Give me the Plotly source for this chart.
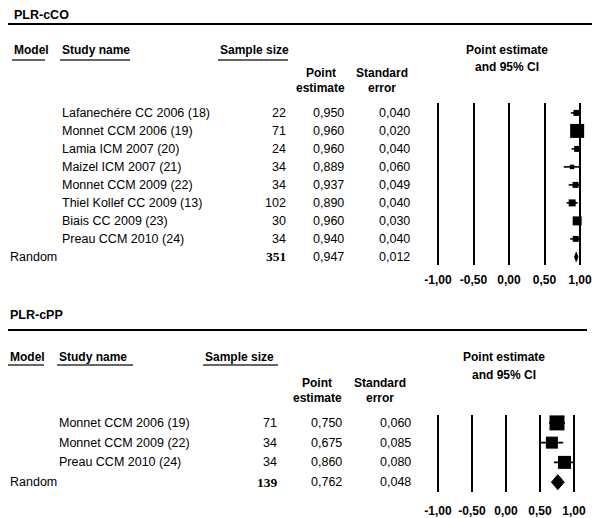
import plotly.graph_objects as go

# ---------------- data ----------------
cco_studies = ["Lafanechére CC 2006 (18)", "Monnet CCM 2006 (19)", "Lamia ICM 2007 (20)",
               "Maizel ICM 2007 (21)", "Monnet CCM 2009 (22)", "Thiel Kollef CC 2009 (13)",
               "Biais CC 2009 (23)", "Preau CCM 2010 (24)"]
cco_n = [22, 71, 24, 34, 34, 102, 30, 34]
cco_est = [0.950, 0.960, 0.960, 0.889, 0.937, 0.890, 0.960, 0.940]
cco_se = [0.040, 0.020, 0.040, 0.060, 0.049, 0.040, 0.030, 0.040]
cco_random_n = 351
cco_random_est = 0.947
cco_random_se = 0.012

cpp_studies = ["Monnet CCM 2006 (19)", "Monnet CCM 2009 (22)", "Preau CCM 2010 (24)"]
cpp_n = [71, 34, 34]
cpp_est = [0.750, 0.675, 0.860]
cpp_se = [0.060, 0.085, 0.080]
cpp_random_n = 139
cpp_random_est = 0.762
cpp_random_se = 0.048

tick_vals = [-1, -0.5, 0, 0.5, 1]
tick_text = ["-1,00", "-0,50", "0,00", "0,50", "1,00"]

# ---------------- styles ----------------
cco_marker_px = [6, 14, 6, 4.5, 6, 7, 9, 6]
cpp_marker_px = [15, 12, 13]
W, H = 600, 518
OX, OY = 8, 8          # page body margin offset of the plot div
REG = "Liberation Sans"
SERIF = "Liberation Serif"


def px(x):
    return (x - OX) / W


def py(y):
    return 1 - (y - OY) / H


def fmt(v):
    return f"{v:.3f}".replace(".", ",")


fig = go.Figure()


def add_forest(studies, est, se, msize, r_est, r_se, xa, ya, dia_h):
    xs, ys = [], []
    for i, (e, s) in enumerate(zip(est, se)):
        lo = max(-1, e - 1.96 * s)
        hi = min(1, e + 1.96 * s)
        xs += [lo, hi, None]
        ys += [i, i, None]
    fig.add_trace(go.Scatter(x=xs, y=ys, mode="lines", line=dict(color="black", width=1.6),
                             xaxis=xa, yaxis=ya, hoverinfo="skip"))
    fig.add_trace(go.Scatter(x=est, y=list(range(len(est))), mode="markers",
                             marker=dict(symbol="square", size=msize, color="black",
                                         opacity=1, line=dict(width=0)),
                             xaxis=xa, yaxis=ya, cliponaxis=False))
    r = len(est)
    lo = r_est - 1.96 * r_se
    hi = r_est + 1.96 * r_se
    fig.add_trace(go.Scatter(x=[lo, r_est, hi, r_est, lo], y=[r, r - dia_h, r, r + dia_h, r],
                             mode="lines", fill="toself", fillcolor="black",
                             line=dict(color="black", width=1), xaxis=xa, yaxis=ya))


add_forest(cco_studies, cco_est, cco_se, cco_marker_px, cco_random_est, cco_random_se, "x", "y", 0.25)
add_forest(cpp_studies, cpp_est, cpp_se, cpp_marker_px, cpp_random_est, cpp_random_se, "x2", "y2", 0.38)

ann = []
shapes = []


def text(x, y, t, anchor="left", bold=False, size=12.5, family=REG, yref="paper"):
    ann.append(dict(x=x, y=y, xref="paper", yref=yref, text=(f"<b>{t}</b>" if bold else t),
                    showarrow=False, xanchor=anchor, yanchor="middle",
                    font=dict(family=family, size=size, color="black")))


def section(title, title_y, sep_y, sep_x0, sep_x1, hdr_y, ul_y, cols, ci_x, pe_x, se_x,
            studies, ns, est, se, rn, rest, rse, yref, pe_y, ci_y):
    text(px(cols["title"]), py(title_y), title, bold=True, size=12.5)
    shapes.append(dict(type="line", xref="paper", yref="paper", x0=px(sep_x0), x1=px(sep_x1),
                       y0=py(sep_y), y1=py(sep_y), line=dict(color="black", width=2)))
    for key, label in [("model", "Model"), ("study", "Study name"), ("sample", "Sample size")]:
        x0, x1 = cols[key]
        text(px(x0), py(hdr_y), label, bold=True, size=12)
        shapes.append(dict(type="line", xref="paper", yref="paper", x0=px(x0), x1=px(x1),
                           y0=py(ul_y), y1=py(ul_y), line=dict(color="#333", width=1.5)))
    text(px(ci_x), py(ci_y[0]), "Point estimate", anchor="center", bold=True, size=12)
    text(px(ci_x), py(ci_y[1]), "and 95% CI", anchor="center", bold=True, size=12)
    text(px(pe_x), py(pe_y[0]), "Point", anchor="center", bold=True, size=12)
    text(px(pe_x), py(pe_y[1]), "estimate", anchor="center", bold=True, size=12)
    text(px(se_x), py(pe_y[0]), "Standard", anchor="center", bold=True, size=12)
    text(px(se_x), py(pe_y[1]), "error", anchor="center", bold=True, size=12)
    for i, (s, n, e, sd) in enumerate(zip(studies, ns, est, se)):
        text(px(cols["study"][0]), i, s, yref=yref)
        text(px(cols["n_right"]), i, str(n), anchor="right", yref=yref)
        text(px(cols["pe_right"]), i, fmt(e), anchor="right", yref=yref)
        text(px(cols["se_right"]), i, fmt(sd), anchor="right", yref=yref)
    r = len(studies)
    text(px(8), r, "Random", yref=yref)
    text(px(cols["n_right"] + 1), r, f"<b>{rn}</b>", anchor="right", yref=yref,
         family=SERIF, size=13.5)
    text(px(cols["pe_right"]), r, fmt(rest), anchor="right", yref=yref)
    text(px(cols["se_right"]), r, fmt(rse), anchor="right", yref=yref)


section("PLR-cCO", 15, 24, 8, 600, 50, 60,
        dict(title=12, model=(12, 45), study=(60, 130), sample=(218, 288),
             n_right=288, pe_right=346, se_right=412),
        507, 321, 382, cco_studies, cco_n, cco_est, cco_se,
        cco_random_n, cco_random_est, cco_random_se, "y", (73, 88), (50, 67))
section("PLR-cPP", 315, 330, 8, 587, 357, 365,
        dict(title=8, model=(8, 44), study=(57, 133), sample=(203, 278),
             n_right=279, pe_right=344, se_right=413),
        504, 317, 380, cpp_studies, cpp_n, cpp_est, cpp_se,
        cpp_random_n, cpp_random_est, cpp_random_se, "y2", (383, 398), (357, 375))

xcommon = dict(range=[-1.1, 1.1], tickvals=tick_vals, ticktext=tick_text, showgrid=True,
               gridcolor="black", gridwidth=2, zeroline=False, showline=False,
               ticks="outside", tickcolor="rgba(0,0,0,0)", automargin=False,
               tickfont=dict(family=REG, size=12, color="black", weight="bold"),
               fixedrange=True)
ycommon = dict(showgrid=False, zeroline=False, showticklabels=False, showline=False,
               ticks="", fixedrange=True, automargin=False)

fig.update_layout(
    width=W, height=H, margin=dict(l=0, r=0, t=0, b=0, pad=0, autoexpand=False),
    paper_bgcolor="white", plot_bgcolor="white", showlegend=False,
    xaxis=dict(domain=[px(430.9), px(587.1)], anchor="y", ticklen=4, **xcommon),
    yaxis=dict(domain=[py(265), py(103)], range=[8.45, -0.55], anchor="x", **ycommon),
    xaxis2=dict(domain=[px(431.2), px(580.8)], anchor="y2", ticklen=8, **xcommon),
    yaxis2=dict(domain=[py(492), py(415)], range=[3.5, -0.4], anchor="x2", **ycommon),
    annotations=ann, shapes=shapes,
)

fig.write_html("out.html")
